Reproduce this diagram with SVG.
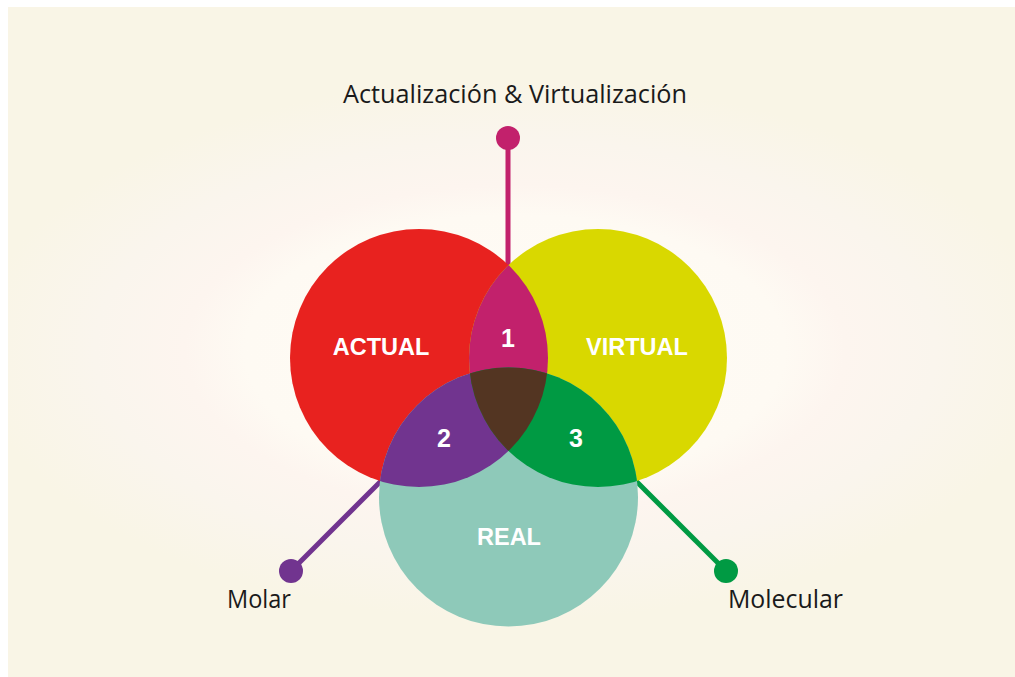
<svg xmlns="http://www.w3.org/2000/svg" width="1015" height="677" viewBox="0 0 1015 677">
  <defs>
    <radialGradient id="glow" gradientUnits="userSpaceOnUse" cx="515" cy="350" r="600" gradientTransform="translate(0 175) scale(1 0.5)">
      <stop offset="0" stop-color="#fffcf6"/>
      <stop offset="0.45" stop-color="#fefaf3"/>
      <stop offset="0.55" stop-color="#fdf5ef"/>
      <stop offset="0.7" stop-color="#faf5ed"/>
      <stop offset="0.9" stop-color="#f9f5e6"/>
      <stop offset="1" stop-color="#f9f5e6"/>
    </radialGradient>
    <clipPath id="clipRed"><circle cx="419" cy="358" r="129"/></clipPath>
    <clipPath id="clipYellow"><circle cx="598" cy="358" r="129"/></clipPath>
    <clipPath id="clipTeal"><circle cx="508.5" cy="497" r="129.5"/></clipPath>
    <style>
      .lbl { font-family: "Liberation Sans", Arial, sans-serif; font-weight: bold; fill: #ffffff; text-anchor: middle; }
      .cap { font-family: "Open Sans", "Noto Sans", sans-serif; fill: #1a1a1a; }
      .conn { stroke-width: 5; fill: none; stroke-linecap: butt; }
    </style>
  </defs>
  <rect x="0" y="0" width="1015" height="677" fill="#ffffff"/>
  <rect x="8" y="7" width="1007" height="670" fill="#f9f5e6"/>
  <rect x="8" y="7" width="1007" height="670" fill="url(#glow)"/>

  <g id="connectors">
    <line class="conn" x1="508" y1="138" x2="508" y2="270" stroke="#c2216c"/>
    <line class="conn" x1="291" y1="571" x2="383" y2="479" stroke="#71348f"/>
    <line class="conn" x1="634" y1="479" x2="726" y2="571" stroke="#009a43"/>
    <circle cx="508" cy="138" r="12" fill="#c2216c"/>
    <circle cx="291" cy="571" r="12" fill="#71348f"/>
    <circle cx="726" cy="571" r="12" fill="#009a43"/>
  </g>

  <g id="actual">
    <circle cx="419" cy="358" r="129" fill="#e8221f"/>
    <text class="lbl" x="381" y="355" font-size="23.5">ACTUAL</text>
  </g>
  <g id="virtual">
    <circle cx="598" cy="358" r="129" fill="#d9d800"/>
    <text class="lbl" x="637" y="355" font-size="23.5">VIRTUAL</text>
  </g>
  <g id="real">
    <circle cx="508.5" cy="497" r="129.5" fill="#8ec9b9"/>
    <text class="lbl" x="509" y="545" font-size="23.5">REAL</text>
  </g>
  <g id="region-1">
    <g clip-path="url(#clipRed)"><circle cx="598" cy="358" r="129" fill="#c2216c"/></g>
    <text class="lbl" x="508" y="347" font-size="25">1</text>
  </g>
  <g id="region-2">
    <g clip-path="url(#clipRed)"><circle cx="508.5" cy="497" r="129.5" fill="#71348f"/></g>
    <text class="lbl" x="444" y="447" font-size="25">2</text>
  </g>
  <g id="region-3">
    <g clip-path="url(#clipYellow)"><circle cx="508.5" cy="497" r="129.5" fill="#009a43"/></g>
    <text class="lbl" x="576" y="447" font-size="25">3</text>
  </g>
  <g id="region-center">
    <g clip-path="url(#clipRed)"><g clip-path="url(#clipYellow)"><circle cx="508.5" cy="497" r="129.5" fill="#533522"/></g></g>
  </g>

  <g id="label-top">
    <text class="cap" x="515" y="103" font-size="26" text-anchor="middle" textLength="344" lengthAdjust="spacingAndGlyphs">Actualización &amp; Virtualización</text>
  </g>
  <g id="label-molar">
    <text class="cap" x="227" y="608" font-size="25" textLength="64" lengthAdjust="spacingAndGlyphs">Molar</text>
  </g>
  <g id="label-molecular">
    <text class="cap" x="728" y="608" font-size="25" textLength="115" lengthAdjust="spacingAndGlyphs">Molecular</text>
  </g>
</svg>
